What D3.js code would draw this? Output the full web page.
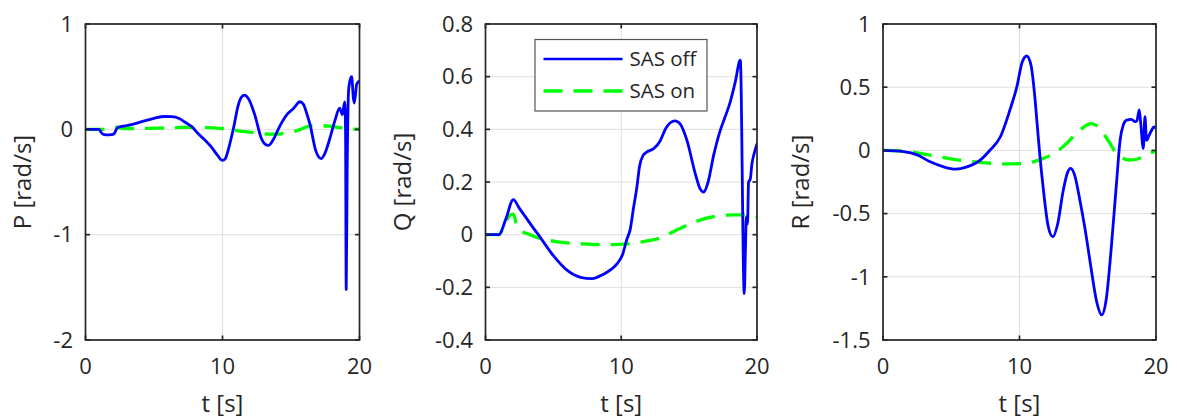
<!DOCTYPE html>
<html>
<head>
<meta charset="utf-8">
<script src="https://cdn.jsdelivr.net/npm/d3@7"></script>
<style>
  body { margin: 0; background: #fff; }
  svg { display: block; }
  text { font-family: "Open Sans", "DejaVu Sans", sans-serif; fill: #262626; }
</style>
</head>
<body>
<svg id="chart" width="1177" height="420"></svg>
<script>
// ---- data: angular rates over time, [t (s), value (rad/s)] ----
const tTicks = [0, 10, 20];
const pTicks = [-2, -1, 0, 1];
const qTicks = [-0.4, -0.2, 0, 0.2, 0.4, 0.6, 0.8];
const rTicks = [-1.5, -1, -0.5, 0, 0.5, 1];
const seriesNames = ["SAS off", "SAS on"];

const pOff = [[0,0],[1.0,0],[1.1,-0.02],[1.25,-0.045],[1.5,-0.052],[1.9,-0.05],[2.1,-0.04],[2.25,0.0],[2.4,0.02],
  [3.0,0.035],[3.5,0.05],[4.3,0.08],[5.0,0.105],[5.8,0.122],[6.3,0.12],[6.8,0.105],[7.3,0.065],[7.8,0.02],
  [8.25,-0.045],[8.7,-0.1],[9.2,-0.17],[9.6,-0.24],[10.0,-0.295],[10.2,-0.28],[10.45,-0.18],[10.8,0.01],
  [11.15,0.23],[11.35,0.3],[11.6,0.325],[11.9,0.29],[12.35,0.14],[12.85,-0.09],[13.1,-0.14],[13.35,-0.152],
  [13.7,-0.1],[14.1,0.01],[14.7,0.14],[15.2,0.2],[15.65,0.262],[15.9,0.24],[16.15,0.15],[16.4,0.04],
  [16.8,-0.2],[17.2,-0.278],[17.5,-0.22],[17.85,-0.08],[18.2,0.08],[18.55,0.2],[18.75,0.14],[18.92,0.26],
  [18.98,0.0],[19.03,-1.52],[19.1,-0.4],[19.2,0.36],[19.3,0.46],[19.43,0.5],[19.55,0.3],[19.62,0.25],
  [19.8,0.43],[20,0.46]];
const pOn = [[0,0],[1.1,0],[1.5,0.005],[2.0,0.025],[2.3,0.02],[2.8,0.008],[4,0.008],[5.5,0.012],[7,0.018],
  [8.5,0.02],[9.7,0.01],[10.6,0],[11.4,-0.02],[12.3,-0.03],[13.3,-0.045],[14.0,-0.045],[14.8,-0.03],
  [15.5,-0.01],[16.2,0.025],[17.0,0.035],[17.8,0.03],[18.5,0.018],[19.2,0.005],[20,0.0]];

const qOff = [[0,0],[1.0,0],[1.5,0.06],[2.05,0.133],[2.5,0.1],[3.05,0.06],[3.6,0.02],[4.03,-0.01],[5.0,-0.08],
  [6.0,-0.135],[7.0,-0.162],[7.84,-0.167],[8.7,-0.15],[9.3,-0.13],[9.7,-0.11],[10.1,-0.075],[10.4,-0.02],
  [10.66,0.02],[10.9,0.1],[11.15,0.18],[11.35,0.26],[11.6,0.3],[11.9,0.314],[12.4,0.327],[12.85,0.355],
  [13.3,0.405],[13.95,0.432],[14.35,0.42],[14.84,0.358],[15.45,0.232],[15.8,0.175],[16.07,0.162],[16.4,0.2],
  [16.8,0.3],[17.3,0.397],[17.6,0.44],[18.03,0.504],[18.4,0.58],[18.77,0.663],[19.06,-0.224],[19.15,-0.05],
  [19.21,0.067],[19.3,0.04],[19.38,0.2],[19.5,0.21],[19.63,0.27],[19.8,0.31],[20,0.346]];
const qOn = [[0,0],[1.0,0],[1.4,0.04],[1.85,0.075],[2.05,0.078],[2.3,0.035],[2.6,0.015],[3.05,0.004],
  [4.0,-0.014],[5.5,-0.028],[7.2,-0.035],[8.9,-0.038],[10.4,-0.035],[11.9,-0.024],[13.0,-0.01],[13.4,0.0],
  [14.6,0.03],[15.8,0.055],[17.0,0.07],[18.3,0.075],[19.0,0.075],[20,0.067]];

const rOff = [[0,0],[1.5,-0.01],[2.5,-0.035],[3.46,-0.09],[4.44,-0.13],[5.3,-0.148],[6.15,-0.13],[7.12,-0.077],
  [7.85,0.003],[8.6,0.108],[9.3,0.32],[9.8,0.5],[10.2,0.7],[10.53,0.747],[10.85,0.67],[11.1,0.45],[11.3,0.2],
  [11.5,-0.05],[11.76,-0.32],[12.1,-0.6],[12.44,-0.683],[12.8,-0.58],[13.2,-0.32],[13.5,-0.18],[13.75,-0.142],
  [14.05,-0.2],[14.4,-0.38],[14.8,-0.62],[15.2,-0.9],[15.66,-1.2],[16.02,-1.302],[16.35,-1.18],[16.7,-0.8],
  [17.12,-0.24],[17.37,0.08],[17.6,0.2],[17.85,0.24],[18.2,0.245],[18.46,0.227],[18.6,0.235],[18.77,0.32],
  [18.87,0.227],[19.07,0.017],[19.19,0.267],[19.31,0.08],[19.5,0.12],[19.68,0.16],[19.85,0.185],[20,0.175]];
const rOn = [[0,0],[1.5,-0.005],[3.46,-0.037],[5.4,-0.075],[7.37,-0.097],[9.07,-0.107],[10.3,-0.103],
  [11.0,-0.09],[11.75,-0.063],[12.73,-0.01],[13.46,0.056],[14.43,0.161],[15.25,0.212],[15.6,0.2],[15.9,0.175],
  [16.3,0.11],[16.63,0.056],[17.0,-0.01],[17.36,-0.05],[18.09,-0.076],[18.6,-0.07],[19.07,-0.045],
  [19.6,-0.02],[20,-0.005]];

// ---- layout ----
const plotTop = 24, plotBottom = 340;
const panels = [
  { label: "P [rad/s]", left: 85.5,  right: 359.5, domain: [-2, 1],     ticks: pTicks, labelGap: 55,   off: pOff, on: pOn },
  { label: "Q [rad/s]", left: 485.5, right: 757,   domain: [-0.4, 0.8], ticks: qTicks, labelGap: 74.5, off: qOff, on: qOn, legend: true },
  { label: "R [rad/s]", left: 883,   right: 1156,  domain: [-1.5, 1],   ticks: rTicks, labelGap: 74.5, off: rOff, on: rOn }
];

const svg = d3.select("#chart");
const axisColor = "#262626", gridColor = "#dfdfdf";
const offColor = "#0000ff", onColor = "#00ff00";
const dash = "19,11";

panels.forEach((p, i) => {
  const x = d3.scaleLinear().domain([0, 20]).range([p.left, p.right]);
  const y = d3.scaleLinear().domain(p.domain).range([plotBottom, plotTop]);
  const g = svg.append("g");

  const clipId = "clip" + i;
  g.append("clipPath").attr("id", clipId).append("rect")
    .attr("x", p.left).attr("y", plotTop).attr("width", p.right - p.left).attr("height", plotBottom - plotTop);

  // grid
  g.selectAll(".gx").data(tTicks).join("line")
    .attr("x1", d => x(d)).attr("x2", d => x(d)).attr("y1", plotTop).attr("y2", plotBottom)
    .attr("stroke", gridColor).attr("stroke-width", 1);
  g.selectAll(".gy").data(p.ticks).join("line")
    .attr("y1", d => y(d)).attr("y2", d => y(d)).attr("x1", p.left).attr("x2", p.right)
    .attr("stroke", gridColor).attr("stroke-width", 1);

  // series
  const line = d3.line().x(d => x(d[0])).y(d => y(d[1])).curve(d3.curveMonotoneX);
  const lines = g.append("g").attr("clip-path", `url(#${clipId})`);
  lines.append("path").datum(p.on).attr("d", line).attr("fill", "none")
    .attr("stroke", onColor).attr("stroke-width", 3.3).attr("stroke-dasharray", dash);
  lines.append("path").datum(p.off).attr("d", line).attr("fill", "none")
    .attr("stroke", offColor).attr("stroke-width", 2.8).attr("stroke-linejoin", "round");

  // box and inward ticks
  g.append("rect").attr("x", p.left).attr("y", plotTop).attr("width", p.right - p.left).attr("height", plotBottom - plotTop)
    .attr("fill", "none").attr("stroke", axisColor).attr("stroke-width", 1.7);
  const tl = 4.5;
  p.ticks.forEach(v => {
    g.append("line").attr("x1", p.left).attr("x2", p.left + tl).attr("y1", y(v)).attr("y2", y(v))
      .attr("stroke", axisColor).attr("stroke-width", 1.7);
    g.append("line").attr("x1", p.right).attr("x2", p.right - tl).attr("y1", y(v)).attr("y2", y(v))
      .attr("stroke", axisColor).attr("stroke-width", 1.7);
  });
  tTicks.forEach(v => {
    g.append("line").attr("x1", x(v)).attr("x2", x(v)).attr("y1", plotBottom).attr("y2", plotBottom - tl)
      .attr("stroke", axisColor).attr("stroke-width", 1.7);
    g.append("line").attr("x1", x(v)).attr("x2", x(v)).attr("y1", plotTop).attr("y2", plotTop + tl)
      .attr("stroke", axisColor).attr("stroke-width", 1.7);
  });

  // tick labels
  g.selectAll(".yl").data(p.ticks).join("text")
    .attr("x", p.left - 12.5).attr("y", d => y(d) + 7.8)
    .attr("text-anchor", "end").style("font-size", "22px")
    .text(d => String(d));
  g.selectAll(".xl").data(tTicks).join("text")
    .attr("x", d => x(d)).attr("y", 374)
    .attr("text-anchor", "middle").style("font-size", "22px")
    .text(d => String(d));

  // axis labels
  g.append("text").attr("x", (p.left + p.right) / 2).attr("y", 411.5)
    .attr("text-anchor", "middle").style("font-size", "24px").text("t [s]");
  const lx = p.left - p.labelGap, ly = (plotTop + plotBottom) / 2;
  g.append("text").attr("transform", `translate(${lx},${ly}) rotate(-90)`)
    .attr("text-anchor", "middle").style("font-size", "24px").text(p.label);

  // legend
  if (p.legend) {
    const lg = g.append("g");
    lg.append("rect").attr("x", 535).attr("y", 39.5).attr("width", 172).attr("height", 71.5)
      .attr("fill", "#fff").attr("stroke", "#555").attr("stroke-width", 1.2);
    const rows = [
      { name: seriesNames[0], color: offColor, w: 2.4, dash: null, yy: 59 },
      { name: seriesNames[1], color: onColor, w: 3.3, dash: dash, yy: 91 }
    ];
    rows.forEach(r => {
      lg.append("line").attr("x1", 543.5).attr("x2", 622.5).attr("y1", r.yy).attr("y2", r.yy)
        .attr("stroke", r.color).attr("stroke-width", r.w).attr("stroke-dasharray", r.dash);
      lg.append("text").attr("x", 629.5).attr("y", r.yy + 7.3).style("font-size", "20.5px").text(r.name);
    });
  }
});
</script>
</body>
</html>
